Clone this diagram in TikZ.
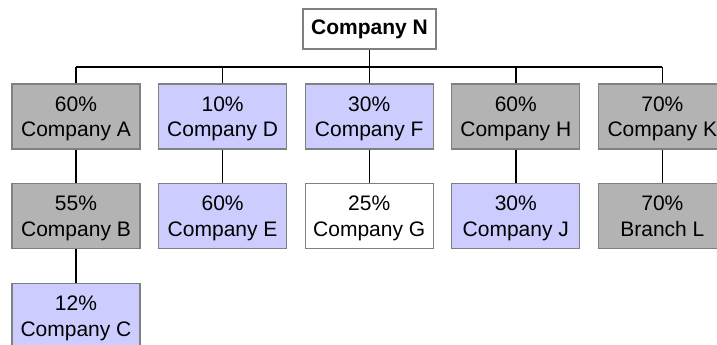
\documentclass[tikz,border=0pt]{standalone}
\usepackage{fontspec}
\setmainfont{Liberation Sans}
\definecolor{boxgray}{HTML}{B3B3B3}
\definecolor{boxlav}{HTML}{CCCCFF}
\definecolor{boxline}{HTML}{808080}
\newcommand{\twolines}[2]{\raisebox{0pt}[\dimexpr\height+5pt\relax]{#1}\\#2\vphantom{Cy}}
\tikzset{
  org/.style={draw=boxline, line width=1.2pt, minimum width=128pt, minimum height=65pt,
    inner sep=0pt, align=center, font=\fontsize{21}{25.5}\selectfont},
  gbox/.style={org, fill=boxgray},
  lbox/.style={org, fill=boxlav},
  wbox/.style={org, fill=white},
  link/.style={draw=black, line width=1.4pt},
}
\begin{document}
\begin{tikzpicture}[x=1pt,y=-1pt]
\useasboundingbox (0,0) rectangle (717,345);
\node[wbox, minimum width=133pt, minimum height=40pt, font=\fontsize{21}{25.5}\selectfont\bfseries] (N) at (369.5,29) {Company N};
\node[gbox] (A) at (76,116.5) {\twolines{60\%}{Company A}};
\node[lbox] (D) at (222.6,116.5) {\twolines{10\%}{Company D}};
\node[lbox] (F) at (369.2,116.5) {\twolines{30\%}{Company F}};
\node[gbox] (H) at (515.8,116.5) {\twolines{60\%}{Company H}};
\node[gbox] (K) at (662.4,116.5) {\twolines{70\%}{Company K}};
\node[gbox] (B) at (76,216) {\twolines{55\%}{Company B}};
\node[lbox] (E) at (222.6,216) {\twolines{60\%}{Company E}};
\node[wbox] (G) at (369.2,216) {\twolines{25\%}{Company G}};
\node[lbox] (J) at (515.8,216) {\twolines{30\%}{Company J}};
\node[gbox] (L) at (662.4,216) {\twolines{70\%}{Branch L}};
\node[lbox] (C) at (76,316) {\twolines{12\%}{Company C}};
\coordinate (busL) at (76,67);
\coordinate (busR) at (662.4,67);
\draw[link] (busL) -- (busR);
\draw[link] (N.south) -- (N.south |- busL);
\foreach \n in {A,D,F,H,K} {\draw[link] (\n.north) -- (\n.north |- busL);}
\draw[link] (A) -- (B);
\draw[link] (B) -- (C);
\draw[link] (D) -- (E);
\draw[link] (F) -- (G);
\draw[link] (H) -- (J);
\draw[link] (K) -- (L);
\end{tikzpicture}
\end{document}
